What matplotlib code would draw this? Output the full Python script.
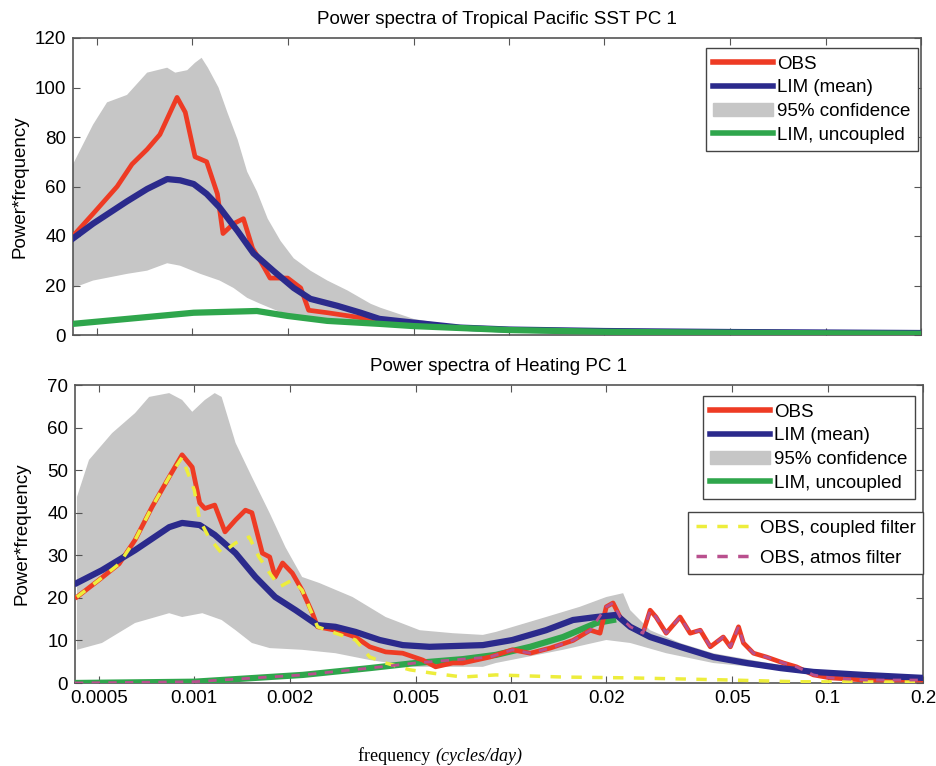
import numpy as np
import matplotlib
matplotlib.use("Agg")
import matplotlib.pyplot as plt
from matplotlib.lines import Line2D
from matplotlib.patches import Patch

# --- top panel: Tropical Pacific SST PC 1 ---
f_obs1 = [0.00042, 0.000486, 0.000579, 0.000645, 0.00072, 0.00079, 0.000895, 0.00095,
          0.00102, 0.00111, 0.0012, 0.00125, 0.00135, 0.00145, 0.00155, 0.00164, 0.00176,
          0.002, 0.0022, 0.00233, 0.00267, 0.0034, 0.0039, 0.005, 0.007, 0.01, 0.02,
          0.05, 0.1, 0.2]
obs1 = [40, 49, 60, 69, 75, 81, 96, 90, 72, 70, 57, 41, 45, 47, 35, 30, 23, 23, 19, 10,
        9, 7, 6, 4.5, 3, 2, 1.5, 1.2, 1, 0.8]

f_lim1 = [0.00042, 0.000486, 0.000622, 0.00072, 0.000833, 0.000915, 0.00101, 0.00111,
          0.00122, 0.00139, 0.00156, 0.0018, 0.00209, 0.00236, 0.00287, 0.0034, 0.0039,
          0.005, 0.007, 0.01, 0.02, 0.05, 0.1, 0.2]
lim1 = [39, 45, 54, 59, 63, 62.5, 61, 57, 51.5, 42, 33, 26, 19, 14.6, 11.8, 9, 6.5, 5,
        3, 2.2, 1.6, 1.2, 1, 0.8]

f_unc1 = [0.00042, 0.000622, 0.00101, 0.0016, 0.002, 0.00267, 0.0039, 0.005, 0.01, 0.02,
          0.05, 0.1, 0.2]
unc1 = [4.5, 6.5, 9, 9.7, 7.7, 5.7, 4.5, 3.6, 2, 1.3, 0.9, 0.7, 0.5]

f_hi1 = [0.00042, 0.000486, 0.000538, 0.000622, 0.00072, 0.000833, 0.000883, 0.000964,
         0.00102, 0.00107, 0.00112, 0.00121, 0.00129, 0.00139, 0.00149, 0.0016, 0.00173,
         0.0019, 0.00209, 0.00236, 0.00267, 0.00309, 0.00366, 0.00393, 0.005, 0.007,
         0.01, 0.02, 0.05, 0.1, 0.2]
hi1 = [69, 85, 94, 97, 106, 108, 106, 107, 110, 112, 108, 100, 90, 79, 66, 58, 47, 38,
       31, 26, 22, 18, 12.6, 11, 6.5, 3.5, 2.5, 1.8, 1.3, 1.1, 0.9]
f_lo1 = [0.00042, 0.000486, 0.000622, 0.00072, 0.000833, 0.000915, 0.00106, 0.00122,
         0.00135, 0.00149, 0.00164, 0.00186, 0.00209, 0.0025, 0.0034, 0.005, 0.007, 0.01,
         0.02, 0.05, 0.1, 0.2]
lo1 = [19, 22, 24.7, 26, 29, 28, 24.7, 22, 19, 15, 12.6, 9.7, 7.7, 6, 4.5, 3, 2, 1.5, 1,
       0.8, 0.6, 0.5]

# --- bottom panel: Heating PC 1 ---
f_obs2 = [0.000426, 0.0005, 0.000579, 0.00065, 0.000736, 0.000833, 0.000915, 0.000985,
          0.00104, 0.00108, 0.00116, 0.00125, 0.00135, 0.00145, 0.00152, 0.00164, 0.00173,
          0.0018, 0.0019, 0.00204, 0.00219, 0.00236, 0.00245, 0.00279, 0.00323, 0.00358,
          0.00402, 0.00455, 0.00526, 0.00578, 0.00655, 0.00704, 0.00858, 0.0101, 0.0115,
          0.0133, 0.0157, 0.0178, 0.0191, 0.02, 0.021, 0.0221, 0.0238, 0.0261, 0.0275,
          0.0287, 0.0309, 0.0342, 0.0368, 0.0396, 0.0426, 0.0468, 0.0493, 0.0523, 0.0542,
          0.0583, 0.0641, 0.0725, 0.0797, 0.0902, 0.102, 0.13, 0.2]
obs2 = [20.2, 24.2, 28, 33.6, 41.4, 48.4, 53.6, 50.7, 42.3, 41, 41.8, 35.5, 38.3, 40.6,
        40, 30.5, 29.6, 24.9, 28.2, 25.8, 21.8, 16.4, 13.2, 12.4, 10.8, 8.5, 7.3, 7, 5.4,
        3.8, 4.7, 4.7, 6.1, 7.8, 7, 8.2, 10, 12.4, 11.7, 17.9, 18.8, 15.5, 13.2, 11.7,
        17.1, 15.5, 11.7, 15.5, 11.7, 12.4, 8.5, 10.8, 8.5, 13.2, 9.4, 7, 6.1, 4.7, 3.8,
        1.9, 1.2, 0.7, 0.7]

f_lim2 = [0.000426, 0.000511, 0.00065, 0.000833, 0.000915, 0.00104, 0.00116, 0.00135,
          0.00156, 0.0018, 0.00209, 0.00245, 0.00279, 0.00323, 0.00385, 0.00455, 0.00553,
          0.00815, 0.0101, 0.0129, 0.0157, 0.0186, 0.0215, 0.0238, 0.0275, 0.0342, 0.0435,
          0.0554, 0.071, 0.0902, 0.13, 0.2]
lim2 = [23.5, 26.5, 31.2, 36.6, 37.6, 37.1, 34.8, 30.5, 24.9, 20.2, 17.1, 13.6, 13.2, 12,
        10.1, 8.9, 8.5, 8.9, 10.1, 12.4, 14.8, 15.5, 16, 13.2, 10.8, 8.5, 6.1, 4.7, 3.5,
        2.6, 1.9, 1.2]

f_unc2 = [0.00042, 0.001, 0.0022, 0.00358, 0.005, 0.00704, 0.00896, 0.0115, 0.0146,
          0.0186, 0.021]
unc2 = [0, 0.3, 1.9, 3.5, 4.7, 5.6, 6.6, 8.5, 10.8, 14.1, 14.8]

f_cpl2 = [0.000426, 0.0005, 0.000579, 0.00065, 0.000736, 0.000833, 0.000915, 0.001,
          0.00104, 0.00111, 0.00122, 0.00135, 0.00149, 0.0016, 0.00173, 0.00186, 0.00204,
          0.00219, 0.00245, 0.00279, 0.00323, 0.00358, 0.00402, 0.00479, 0.00566, 0.00704,
          0.00896, 0.0146, 0.0238, 0.0493, 0.0797, 0.2]
cpl2 = [20.2, 24.2, 28, 33.6, 41.4, 48.4, 53, 45.3, 38.3, 34.3, 30.5, 32.9, 34.3, 29.6,
        25.8, 22.6, 24.2, 21.8, 13.2, 11.7, 10.1, 6.1, 4.7, 3.1, 2.3, 1.4, 1.9, 1.4, 1.2,
        0.7, 0.3, 0.2]

f_atm2 = [0.00042, 0.001, 0.0022, 0.00358, 0.005, 0.00704, 0.00858, 0.0101, 0.0115, 0.0133,
          0.0157, 0.0178, 0.02, 0.021, 0.0221, 0.0238, 0.0261, 0.0275, 0.0287, 0.0309,
          0.0342, 0.0368, 0.0396, 0.0426, 0.0468, 0.0493, 0.0523, 0.0542, 0.0583, 0.0641,
          0.0725, 0.0797, 0.0902, 0.102, 0.13, 0.2]
atm2 = [0, 0.3, 1.9, 3.5, 4.7, 5.6, 6.1, 7.8, 7, 8.2, 10, 12.4, 17.9, 18.8, 15.5, 13.2,
        11.7, 17.1, 15.5, 11.7, 15.5, 11.7, 12.4, 8.5, 10.8, 8.5, 13.2, 9.4, 7, 6.1, 4.7,
        3.8, 1.9, 1.2, 0.7, 0.7]

f_hi2 = [0.000426, 0.000465, 0.00055, 0.00065, 0.00072, 0.000833, 0.000915, 0.000985,
         0.00108, 0.00116, 0.00122, 0.00135, 0.00152, 0.00173, 0.00194, 0.00219, 0.00248,
         0.00316, 0.00402, 0.00515, 0.00655, 0.00815, 0.00896, 0.0129, 0.0165, 0.02,
         0.0226, 0.0238, 0.0275, 0.0342, 0.0435, 0.0627, 0.1, 0.2]
hi2 = [43.7, 52.4, 58.7, 63.4, 67.2, 68.1, 66.5, 63.7, 66.5, 68.1, 67.2, 56.4, 48.4, 39.9,
       31.9, 24.9, 23.5, 20.2, 15.5, 12.4, 11.7, 11.3, 12, 15.5, 17.9, 20.2, 21.1, 17.1,
       12.4, 9.4, 7, 4.9, 2.5, 1.5]
f_lo2 = [0.000426, 0.000511, 0.00065, 0.000833, 0.000915, 0.00106, 0.00122, 0.00135,
         0.00152, 0.00173, 0.00219, 0.00279, 0.00358, 0.005, 0.00815, 0.00896, 0.0146,
         0.02, 0.0238, 0.0309, 0.0435, 0.0627, 0.1, 0.2]
lo2 = [7.8, 9.4, 14.1, 16.4, 15.5, 16.4, 14.8, 12.4, 9.4, 8.2, 7.8, 7, 5.4, 3.8, 3.8, 4.7,
       7.8, 10.1, 9.4, 7, 4.7, 3.5, 1.5, 0.8]

xticks = [0.0005, 0.001, 0.002, 0.005, 0.01, 0.02, 0.05, 0.1, 0.2]
xticklabels = ['0.0005', '0.001', '0.002', '0.005', '0.01', '0.02', '0.05', '0.1', '0.2']

RED = '#ee3b24'
BLUE = '#2b2a8c'
GREEN = '#2fa64c'
GRAY = '#c6c6c6'
YELLOW = '#eded3c'
PINK = '#b9508e'

plt.rcParams['font.family'] = ['Liberation Sans', 'DejaVu Sans']
plt.rcParams['font.size'] = 13.5

fig = plt.figure(figsize=(9.36, 7.66), dpi=100)
ax1 = fig.add_axes([73 / 936, 1 - 335 / 766, 848 / 936, 297 / 766])
ax2 = fig.add_axes([75 / 936, 1 - 683 / 766, 848 / 936, 298 / 766])


def band(ax, fh, vh, fl, vl):
    xs = np.concatenate([fh, fl[::-1]])
    ys = np.concatenate([vh, vl[::-1]])
    ax.fill(xs, ys, color=GRAY, lw=0, zorder=1)


def style(ax, ymax, ystep):
    ax.set_xscale('log')
    ax.set_xlim(0.00042, 0.2)
    ax.set_ylim(0, ymax)
    ax.set_yticks(np.arange(0, ymax + 1, ystep))
    ax.set_xticks(xticks)
    ax.xaxis.set_minor_locator(matplotlib.ticker.NullLocator())
    ax.tick_params(direction='in', top=True, right=True, length=5, width=0.8,
                   color='#555555', labelsize=13.5, pad=5)
    for s in ax.spines.values():
        s.set_color('#555555')
        s.set_linewidth(1.2)
    ax.set_ylabel('Power*frequency', fontsize=13.5)
    ax.yaxis.set_label_coords(-0.053, 0.5)


def legend_box(ax, handles, labels, anchor, spacing=0.35):
    leg = ax.legend(handles, labels, loc='upper right', bbox_to_anchor=anchor,
                    borderaxespad=0, fancybox=False, framealpha=1, edgecolor='#444444',
                    fontsize=13.5, handlelength=3.2, handletextpad=0.2,
                    labelspacing=spacing, borderpad=0.4)
    leg.get_frame().set_linewidth(1.0)
    return leg


# top panel
band(ax1, f_hi1, hi1, f_lo1, lo1)
ax1.plot(f_obs1, obs1, color=RED, lw=3.4, zorder=3)
ax1.plot(f_lim1, lim1, color=BLUE, lw=4.5, zorder=4)
ax1.plot(f_unc1, unc1, color=GREEN, lw=4.5, zorder=5)
style(ax1, 120, 20)
ax1.set_xticklabels([])
ax1.set_title('Power spectra of Tropical Pacific SST PC 1', fontsize=13.5, pad=10)

main_handles = [Line2D([], [], color=RED, lw=4), Line2D([], [], color=BLUE, lw=4),
                Patch(facecolor=GRAY, edgecolor=GRAY), Line2D([], [], color=GREEN, lw=4)]
main_labels = ['OBS', 'LIM (mean)', '95% confidence', 'LIM, uncoupled']
legend_box(ax1, main_handles, main_labels, (0.9965, 0.966))

# bottom panel
band(ax2, f_hi2, hi2, f_lo2, lo2)
ax2.plot(f_unc2, unc2, color=GREEN, lw=4.5, zorder=3)
ax2.plot(f_obs2, obs2, color=RED, lw=3.4, zorder=4)
ax2.plot(f_lim2, lim2, color=BLUE, lw=4.5, zorder=5)
ax2.plot(f_cpl2, cpl2, color=YELLOW, lw=2.5, ls=(0, (3, 3)), zorder=6)
ax2.plot(f_atm2, atm2, color=PINK, lw=2.0, ls=(0, (3, 3)), zorder=6)
style(ax2, 70, 10)
ax2.set_xticklabels(xticklabels)
ax2.set_title('Power spectra of Heating PC 1', fontsize=13.5, pad=10)

leg1 = legend_box(ax2, main_handles, main_labels, (0.9906, 0.963))
ax2.add_artist(leg1)
filt_handles = [Line2D([], [], color=YELLOW, lw=2.5, ls=(0, (3, 3))),
                Line2D([], [], color=PINK, lw=2.5, ls=(0, (3, 3)))]
legend_box(ax2, filt_handles, ['OBS, coupled filter', 'OBS, atmos filter'],
           (1.0, 0.574), spacing=0.7)

fig.text(435 / 936, 1 - 756 / 766, 'frequency ', ha='right', va='center',
         family='Liberation Serif', fontsize=13)
fig.text(435 / 936, 1 - 756 / 766, '(cycles/day)', ha='left', va='center',
         family='Liberation Serif', style='italic', fontsize=13)

fig.savefig('out.png', dpi=100)
